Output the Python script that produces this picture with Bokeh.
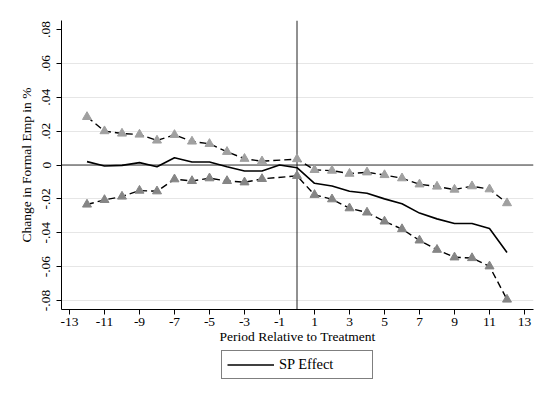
from bokeh.plotting import figure
from bokeh.layouts import column
from bokeh.models import Span, Legend, LegendItem, FixedTicker, Range1d
from bokeh.embed import file_html
from bokeh.resources import INLINE

# ---- data ----
period = [-12, -11, -10, -9, -8, -7, -6, -5, -4, -3, -2, -1, 0,
          1, 2, 3, 4, 5, 6, 7, 8, 9, 10, 11, 12]
effect = [0.0020, -0.0006, -0.0002, 0.0014, -0.0010, 0.0043, 0.0018, 0.0018,
          -0.0010, -0.0035, -0.0035, 0.0000, -0.0016,
          -0.0108, -0.0124, -0.0155, -0.0167, -0.0200, -0.0229, -0.0284,
          -0.0318, -0.0345, -0.0345, -0.0375, -0.0516]

ci_period = [-12, -11, -10, -9, -8, -7, -6, -5, -4, -3, -2, 0,
             1, 2, 3, 4, 5, 6, 7, 8, 9, 10, 11, 12]
ci_upper = [0.0284, 0.0200, 0.0186, 0.0180, 0.0145, 0.0178, 0.0139, 0.0125,
            0.0078, 0.0037, 0.0022, 0.0035,
            -0.0029, -0.0033, -0.0051, -0.0043, -0.0059, -0.0078, -0.0114,
            -0.0127, -0.0145, -0.0125, -0.0143, -0.0225]
ci_lower = [-0.0233, -0.0206, -0.0186, -0.0151, -0.0155, -0.0084, -0.0094,
            -0.0078, -0.0094, -0.0102, -0.0082, -0.0064,
            -0.0176, -0.0202, -0.0255, -0.0280, -0.0333, -0.0378, -0.0445,
            -0.0500, -0.0545, -0.0549, -0.0598, -0.0794]

x_ticks = [-13, -11, -9, -7, -5, -3, -1, 1, 3, 5, 7, 9, 11, 13]
x_tick_labels = ["-13", "-11", "-9", "-7", "-5", "-3", "-1",
                 "1", "3", "5", "7", "9", "11", "13"]
y_ticks = [-0.08, -0.06, -0.04, -0.02, 0.0, 0.02, 0.04, 0.06, 0.08]
y_tick_labels = ["-.08", "-.06", "-.04", "-.02", "0", ".02", ".04", ".06", ".08"]
y_grid_ticks = [-0.08, -0.06, -0.04, -0.02, 0.0, 0.02, 0.04, 0.06]

treatment_period = 0
zero_effect = 0

FONT = "Liberation Serif"
FS = "13.5px"

W = 539
H_MAIN = 346
H_LEG = 50

p = figure(width=W, height=H_MAIN, output_backend="svg", toolbar_location=None,
           x_range=Range1d(-13.457, 13.514), y_range=Range1d(-0.0853, 0.0853),
           min_border_left=61, min_border_right=6, min_border_top=20,
           min_border_bottom=36)

p.outline_line_color = None
p.background_fill_color = "white"
p.border_fill_color = "white"

p.xgrid.visible = False
p.ygrid.ticker = FixedTicker(ticks=y_grid_ticks)
p.ygrid.grid_line_color = "#e6e6e6"
p.ygrid.grid_line_width = 1

p.xaxis.ticker = FixedTicker(ticks=x_ticks)
p.xaxis.major_label_overrides = {t: l for t, l in zip(x_ticks, x_tick_labels)}
p.yaxis.ticker = FixedTicker(ticks=y_ticks)
p.yaxis.major_label_overrides = {t: l for t, l in zip(y_ticks, y_tick_labels)}
p.yaxis.major_label_orientation = "vertical"

for ax in (p.xaxis, p.yaxis):
    ax.axis_line_color = "black"
    ax.axis_line_width = 1
    ax.major_tick_line_color = "black"
    ax.major_tick_out = 5
    ax.major_tick_in = 0
    ax.minor_tick_line_color = None
    ax.major_label_text_font = FONT
    ax.major_label_text_font_size = FS
    ax.major_label_text_color = "black"
    ax.axis_label_text_font = FONT
    ax.axis_label_text_font_size = FS
    ax.axis_label_text_font_style = "normal"
    ax.axis_label_text_color = "black"

p.xaxis.axis_label = "Period Relative to Treatment"
p.yaxis.axis_label = "Change in Formal Emp in %"
p.xaxis.major_label_standoff = 3
p.xaxis.axis_label_standoff = 0
p.yaxis.major_label_standoff = 6
p.yaxis.axis_label_standoff = 6

p.add_layout(Span(location=zero_effect, dimension="width", line_color="#333333",
                  line_width=1, level="underlay"))
p.add_layout(Span(location=treatment_period, dimension="height", line_color="#222222",
                  line_width=1, level="underlay"))

p.line(period, effect, line_color="black", line_width=1.6)
p.line(ci_period, ci_upper, line_color="black", line_width=1.4, line_dash="7 4")
p.scatter(ci_period, ci_upper, marker="triangle", size=9,
          fill_color="#a0a0a0", line_color="#a0a0a0")
p.line(ci_period, ci_lower, line_color="black", line_width=1.4, line_dash="7 4")
p.scatter(ci_period, ci_lower, marker="triangle", size=9,
          fill_color="#858585", line_color="#858585")

# legend strip below the chart (its line sits outside the visible range)
q = figure(width=W, height=H_LEG, output_backend="svg", toolbar_location=None,
           x_range=Range1d(0, 1), y_range=Range1d(1, 2), min_border=0)
q.axis.visible = False
q.grid.visible = False
q.outline_line_color = None
q.background_fill_color = "white"
q.border_fill_color = "white"
key = q.line(period, effect, line_color="black", line_width=1.6)

legend = Legend(items=[LegendItem(label="SP Effect", renderers=[key])],
                location=(160, 17), orientation="vertical",
                border_line_color="black", border_line_width=1,
                padding=5, glyph_width=47, glyph_height=15, label_height=15,
                label_standoff=5, label_width=88,
                label_text_font=FONT, label_text_font_size="14.5px",
                label_text_color="black", margin=0, background_fill_alpha=1)
q.add_layout(legend, "center")

layout = column(p, q, spacing=0)
open("out.html", "w").write(file_html(layout, INLINE))
